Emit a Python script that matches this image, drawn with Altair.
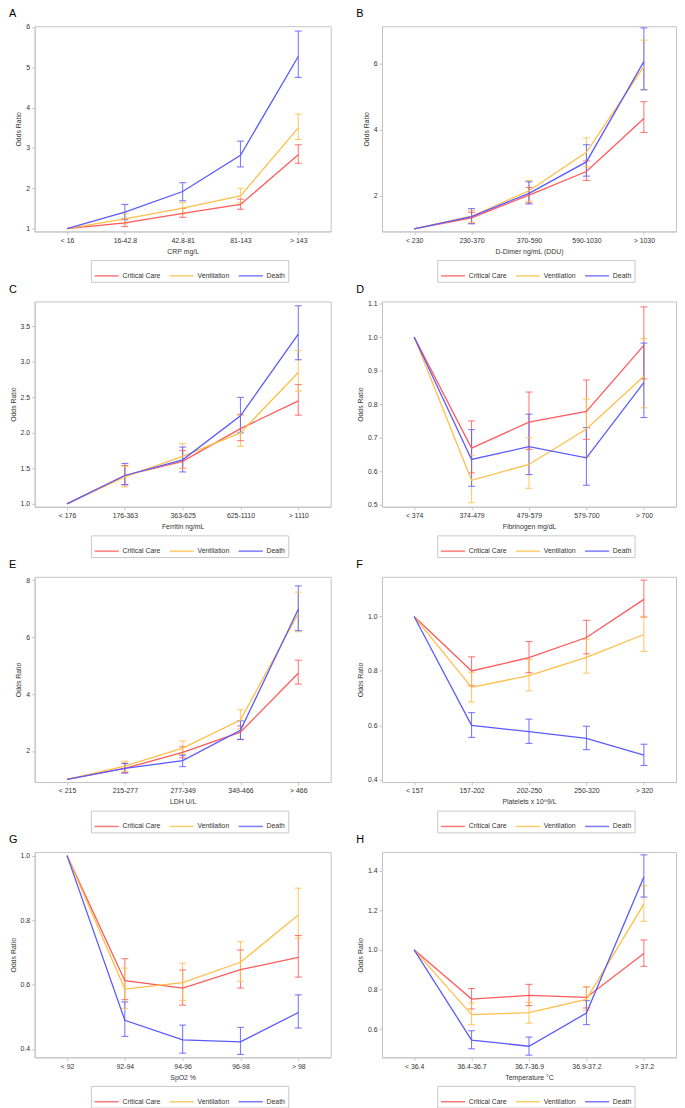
import altair as alt
import pandas as pd

SERIES = ["Critical Care", "Ventilation", "Death"]
COLORS = ["#ff5a5a", "#ffbf48", "#5a5aff"]
FONT = "Liberation Sans"

# ---------- Panel A: CRP ----------
A_cats = ["< 16", "16-42.8", "42.8-81", "81-143", "> 143"]
A_cc = [1.0, 1.14, 1.38, 1.60, 2.83]
A_cc_lo = [1.05, 1.28, 1.48, 2.62]
A_cc_hi = [1.25, 1.50, 1.73, 3.08]
A_vent = [1.0, 1.24, 1.51, 1.81, 3.50]
A_vent_lo = [1.12, 1.37, 1.64, 3.21]
A_vent_hi = [1.37, 1.65, 2.00, 3.84]
A_death = [1.0, 1.41, 1.92, 2.82, 5.27]
A_death_lo = [1.22, 1.69, 2.53, 4.75]
A_death_hi = [1.60, 2.14, 3.17, 5.90]

# ---------- Panel B: D-Dimer ----------
B_cats = ["< 230", "230-370", "370-590", "590-1030", "> 1030"]
B_cc = [1.0, 1.33, 2.02, 2.73, 4.33]
B_cc_lo = [1.17, 1.78, 2.46, 3.91]
B_cc_hi = [1.50, 2.25, 3.05, 4.84]
B_vent = [1.0, 1.38, 2.15, 3.31, 5.90]
B_vent_lo = [1.20, 1.83, 2.88, 5.20]
B_vent_hi = [1.56, 2.46, 3.75, 6.70]
B_death = [1.0, 1.37, 2.07, 3.02, 6.05]
B_death_lo = [1.15, 1.75, 2.59, 5.20]
B_death_hi = [1.61, 2.42, 3.54, 7.07]

# ---------- Panel C: Ferritin ----------
C_cats = ["< 176", "176-363", "363-625", "625-1110", "> 1110"]
C_cc = [1.0, 1.40, 1.60, 2.06, 2.45]
C_cc_lo = [1.27, 1.50, 1.89, 2.25]
C_cc_hi = [1.54, 1.75, 2.26, 2.68]
C_vent = [1.0, 1.38, 1.67, 2.00, 2.85]
C_vent_lo = [1.24, 1.50, 1.81, 2.59]
C_vent_hi = [1.53, 1.85, 2.25, 3.16]
C_death = [1.0, 1.40, 1.62, 2.24, 3.39]
C_death_lo = [1.27, 1.45, 2.00, 3.03]
C_death_hi = [1.57, 1.80, 2.50, 3.79]

# ---------- Panel D: Fibrinogen ----------
D_cats = ["< 374", "374-479", "479-579", "579-700", "> 700"]
D_cc = [1.0, 0.669, 0.746, 0.778, 0.975]
D_cc_lo = [0.595, 0.665, 0.695, 0.875]
D_cc_hi = [0.750, 0.836, 0.872, 1.090]
D_vent = [1.0, 0.573, 0.620, 0.726, 0.883]
D_vent_lo = [0.506, 0.549, 0.643, 0.789]
D_vent_hi = [0.648, 0.700, 0.815, 0.996]
D_death = [1.0, 0.635, 0.673, 0.640, 0.864]
D_death_lo = [0.555, 0.590, 0.558, 0.760]
D_death_hi = [0.724, 0.770, 0.730, 0.982]

# ---------- Panel E: LDH ----------
E_cats = ["< 215", "215-277", "277-349", "349-466", "> 466"]
E_cc = [1.0, 1.39, 1.95, 2.66, 4.73]
E_cc_lo = [1.23, 1.76, 2.40, 4.35]
E_cc_hi = [1.57, 2.15, 2.88, 5.19]
E_vent = [1.0, 1.47, 2.10, 3.09, 6.83]
E_vent_lo = [1.28, 1.89, 2.77, 6.19]
E_vent_hi = [1.64, 2.35, 3.45, 7.58]
E_death = [1.0, 1.39, 1.66, 2.73, 6.98]
E_death_lo = [1.23, 1.45, 2.41, 6.23]
E_death_hi = [1.56, 1.85, 3.06, 7.80]

# ---------- Panel F: Platelets ----------
F_cats = ["< 157", "157-202", "202-250", "250-320", "> 320"]
F_cc = [1.0, 0.800, 0.849, 0.923, 1.063]
F_cc_lo = [0.746, 0.794, 0.863, 0.998]
F_cc_hi = [0.852, 0.908, 0.986, 1.134]
F_vent = [1.0, 0.740, 0.783, 0.850, 0.934]
F_vent_lo = [0.686, 0.727, 0.792, 0.872]
F_vent_hi = [0.795, 0.842, 0.917, 1.001]
F_death = [1.0, 0.600, 0.577, 0.552, 0.491]
F_death_lo = [0.556, 0.534, 0.511, 0.453]
F_death_hi = [0.647, 0.623, 0.597, 0.531]

# ---------- Panel G: SpO2 ----------
G_cats = ["< 92", "92-94", "94-96", "96-98", "> 98"]
G_cc = [1.0, 0.612, 0.589, 0.646, 0.684]
G_cc_lo = [0.553, 0.536, 0.589, 0.623]
G_cc_hi = [0.680, 0.645, 0.707, 0.752]
G_vent = [1.0, 0.586, 0.606, 0.669, 0.816]
G_vent_lo = [0.526, 0.551, 0.610, 0.744]
G_vent_hi = [0.651, 0.666, 0.733, 0.899]
G_death = [1.0, 0.489, 0.428, 0.422, 0.513]
G_death_lo = [0.439, 0.387, 0.383, 0.465]
G_death_hi = [0.546, 0.474, 0.467, 0.568]

# ---------- Panel H: Temperature ----------
H_cats = ["< 36.4", "36.4-36.7", "36.7-36.9", "36.9-37.2", "> 37.2"]
H_cc = [1.0, 0.752, 0.770, 0.760, 0.982]
H_cc_lo = [0.702, 0.719, 0.707, 0.917]
H_cc_hi = [0.805, 0.826, 0.813, 1.050]
H_vent = [1.0, 0.673, 0.683, 0.750, 1.231]
H_vent_lo = [0.623, 0.630, 0.696, 1.144]
H_vent_hi = [0.732, 0.736, 0.815, 1.324]
H_death = [1.0, 0.545, 0.514, 0.681, 1.367]
H_death_lo = [0.501, 0.469, 0.623, 1.266]
H_death_hi = [0.592, 0.560, 0.744, 1.479]

LEGEND_W = 186
PLOT_H = 208


def panel(letter, cats, xtitle, vals, los, his, ydom, yticks, yfmt, width, height=PLOT_H):
    rows, err = [], []
    for s, v, lo, hi in zip(SERIES, vals, los, his):
        for c, y in zip(cats, v):
            rows.append({"cat": c, "series": s, "OR": y})
        for c, l, h in zip(cats[1:], lo, hi):
            err.append({"cat": c, "series": s, "lo": l, "hi": h})
    df = pd.DataFrame(rows)
    de = pd.DataFrame(err)

    x = alt.X("cat:O", sort=cats, scale=alt.Scale(type="point", padding=0.56),
              axis=alt.Axis(title=xtitle, labelAngle=0))
    yaxis = alt.Axis(title="Odds Ratio", values=yticks, format=yfmt)
    yscale = alt.Scale(domain=ydom, nice=False, zero=False)
    legend = alt.Legend(title=None, orient="none", direction="horizontal",
                        legendX=(width - LEGEND_W) / 2, legendY=height + 29,
                        symbolType="stroke", symbolSize=600, symbolStrokeWidth=1.5,
                        labelFontSize=7, labelFont=FONT, labelColor="#333333", labelOffset=3,
                        columnPadding=5, strokeColor="#c8c8c8", padding=3)
    color = alt.Color("series:N", scale=alt.Scale(domain=SERIES, range=COLORS), legend=legend)

    line = alt.Chart(df).mark_line(strokeWidth=1.3).encode(
        x=x, y=alt.Y("OR:Q", scale=yscale, axis=yaxis), color=color)
    bars = alt.Chart(de).mark_rule(strokeWidth=1.1, opacity=0.8).encode(
        x=x, y=alt.Y("lo:Q", scale=yscale, axis=yaxis), y2="hi:Q", color=color)
    cap_lo = alt.Chart(de).mark_tick(thickness=1.1, size=7, opacity=0.8).encode(
        x=x, y=alt.Y("lo:Q", scale=yscale, axis=yaxis), color=color)
    cap_hi = alt.Chart(de).mark_tick(thickness=1.1, size=7, opacity=0.8).encode(
        x=x, y=alt.Y("hi:Q", scale=yscale, axis=yaxis), color=color)
    tag = alt.Chart(pd.DataFrame({"t": [letter]})).mark_text(
        align="left", baseline="alphabetic", fontSize=11, font=FONT, color="#000000"
    ).encode(x=alt.value(-26), y=alt.value(-9), text="t:N")

    return alt.layer(bars, cap_lo, cap_hi, line, tag).properties(width=width, height=height)


WL, WR = 300, 298
pA = panel("A", A_cats, "CRP mg/L", [A_cc, A_vent, A_death],
           [A_cc_lo, A_vent_lo, A_death_lo], [A_cc_hi, A_vent_hi, A_death_hi],
           [0.93, 6.02], [1, 2, 3, 4, 5, 6], "d", WL)
pB = panel("B", B_cats, "D-Dimer ng/mL (DDU)", [B_cc, B_vent, B_death],
           [B_cc_lo, B_vent_lo, B_death_lo], [B_cc_hi, B_vent_hi, B_death_hi],
           [0.92, 7.12], [2, 4, 6], "d", WR)
pC = panel("C", C_cats, "Ferritin ng/mL", [C_cc, C_vent, C_death],
           [C_cc_lo, C_vent_lo, C_death_lo], [C_cc_hi, C_vent_hi, C_death_hi],
           [0.96, 3.85], [1.0, 1.5, 2.0, 2.5, 3.0, 3.5], ".1f", WL)
pD = panel("D", D_cats, "Fibrinogen mg/dL", [D_cc, D_vent, D_death],
           [D_cc_lo, D_vent_lo, D_death_lo], [D_cc_hi, D_vent_hi, D_death_hi],
           [0.494, 1.106], [0.5, 0.6, 0.7, 0.8, 0.9, 1.0, 1.1], ".1f", WR)
pE = panel("E", E_cats, "LDH U/L", [E_cc, E_vent, E_death],
           [E_cc_lo, E_vent_lo, E_death_lo], [E_cc_hi, E_vent_hi, E_death_hi],
           [0.91, 8.12], [2, 4, 6, 8], "d", WL)
pF = panel("F", F_cats, "Platelets x 10^9/L", [F_cc, F_vent, F_death],
           [F_cc_lo, F_vent_lo, F_death_lo], [F_cc_hi, F_vent_hi, F_death_hi],
           [0.392, 1.146], [0.4, 0.6, 0.8, 1.0], ".1f", WR)
pG = panel("G", G_cats, "SpO2 %", [G_cc, G_vent, G_death],
           [G_cc_lo, G_vent_lo, G_death_lo], [G_cc_hi, G_vent_hi, G_death_hi],
           [0.374, 1.011], [0.4, 0.6, 0.8, 1.0], ".1f", WL)
pH = panel("H", H_cats, "Temperature °C", [H_cc, H_vent, H_death],
           [H_cc_lo, H_vent_lo, H_death_lo], [H_cc_hi, H_vent_hi, H_death_hi],
           [0.458, 1.493], [0.6, 0.8, 1.0, 1.2, 1.4], ".1f", WR)

chart = alt.concat(pA, pB, pC, pD, pE, pF, pG, pH, columns=2,
                   spacing={"row": 0, "column": 24}).resolve_scale(
    color="independent", x="independent", y="independent"
).resolve_legend(color="independent").properties(
    padding={"left": 0, "top": -8, "right": 0, "bottom": 0}
).configure(
    font=FONT
).configure_view(
    stroke="#c4c4c4", strokeWidth=1
).configure_axis(
    domainColor="#c4c4c4", tickColor="#c4c4c4", labelColor="#333333", titleColor="#333333",
    labelFont=FONT, titleFont=FONT, labelFontSize=7, titleFontSize=7,
    titleFontWeight="normal", grid=False, tickSize=3, labelPadding=2, titlePadding=4
).configure_axisX(labelPadding=2, titlePadding=4)

chart.save("out.html", embed_options={"renderer": "svg", "actions": False})
